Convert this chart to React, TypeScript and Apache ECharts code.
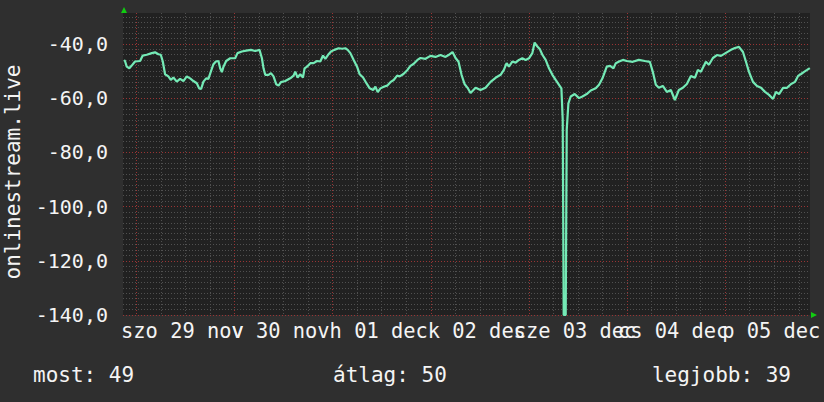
import React, { useEffect, useRef } from "react";
import * as echarts from "echarts";

// Time in hours since 2025-11-29 00:00, and the measured value.
const hours = [
  -3.0, -2.77, -2.35, -1.71, -1.13, -0.32, 0.91, 1.57, 2.55, 3.77, 4.58, 5.39, 5.98, 6.47, 7.03, 7.84, 8.43,
  9.06, 9.89, 10.7, 11.51, 12.34, 13.15, 13.96, 14.79, 15.36, 15.85, 16.41, 17.07, 17.63, 18.22, 18.86, 19.45,
  20.08, 20.5, 20.92, 21.31, 21.97, 22.95, 24.17, 24.74, 25.81, 26.87, 28.02, 29.07, 30.12,
  30.71, 31.1, 31.52, 32.33, 32.92, 33.55, 34.22, 34.78, 35.37, 36.42, 37.64, 38.45, 38.87, 39.43, 40.09,
  40.75, 41.15, 41.73, 42.54, 43.35, 44.18, 44.99, 45.65, 46.22, 47.02, 47.61, 48.42, 49.47, 50.31, 51.11,
  51.68, 52.34, 53.15, 53.98, 54.62, 55.45, 56.26, 57.07, 57.9, 58.47, 59.03, 59.69, 60.5, 61.33, 62.31,
  62.94, 63.78, 64.41,
  65.32, 66.3, 67.03, 67.77, 68.75, 69.48, 70.71, 71.93, 73.16, 74.38, 75.61, 76.34, 77.32, 78.06, 78.79,
  79.53, 80.26, 81.0, 81.73, 82.96, 84.18, 85.4, 86.63, 87.85,
  89.08, 89.88, 90.55, 91.11, 91.94, 92.75, 93.56, 94.39, 95.2, 96.01, 96.84, 97.4, 98.07, 98.7, 99.29,
  100.1, 100.91, 101.74, 102.55, 103.36, 103.95, 104.27, 104.51, 105.0, 105.25, 105.66, 106.22, 107.2,
  108.25, 109.09, 110.14, 111.12, 112.35, 113.15, 113.99, 115.04, 115.85, 116.68, 117.25, 118.05,
  118.99, 119.93, 121.4, 122.87, 124.34, 125.57, 126.3, 127.04, 127.77, 128.75, 129.73, 130.71, 131.69,
  132.67, 133.65, 134.63, 135.61, 136.59, 137.32, 138.06, 139.28, 140.02, 141.0, 141.98, 142.96, 144.18,
  145.41, 146.39, 147.37, 148.35, 149.08, 149.82, 150.8, 151.78, 152.76, 153.74, 154.72, 155.7, 156.43,
  157.17, 158.15, 159.13, 160.11, 161.09, 161.82, 162.56, 163.29, 164.03, 164.7,
];

const values = [
  -46.0, -46.3, -48.4, -49.0, -48.0, -46.5, -46.3, -44.3, -44.0, -43.4, -43.1, -43.8, -44.0, -46.5, -51.2, -52.0, -53.3,
  -52.4, -53.9, -52.9, -53.7, -52.0, -52.7, -53.7, -54.5, -56.4, -56.6, -53.9, -52.7, -52.9, -50.2, -47.5, -46.5,
  -46.3, -49.0, -50.4, -48.4, -46.3, -45.3, -45.3, -43.4, -42.8, -42.5, -42.2, -42.6, -42.2,
  -45.3, -49.0, -51.4, -51.4, -50.8, -52.0, -54.9, -55.4, -54.1, -53.7, -52.7, -51.7, -50.2, -52.4, -51.2,
  -52.4, -49.0, -48.4, -47.1, -47.1, -46.3, -46.5, -44.3, -45.5, -43.8, -42.8, -42.2, -41.6, -41.8, -41.6,
  -42.2, -43.4, -45.9, -48.4, -51.2, -52.4, -54.5, -56.4, -57.0, -55.8, -57.8, -56.4, -55.8, -55.4, -53.9,
  -53.3, -51.7, -52.0,
  -51.1, -49.6, -48.1, -47.4, -45.9, -45.2, -45.5, -44.4, -44.8, -44.1, -44.8, -44.1, -43.0, -45.2, -46.6,
  -51.4, -54.8, -56.2, -58.1, -56.2, -57.0, -56.2, -54.0, -52.5,
  -51.4, -49.6, -47.1, -48.4, -46.5, -46.9, -45.9, -45.3, -45.9, -45.3, -43.4, -39.5, -41.0, -42.0, -44.0,
  -45.9, -49.0, -51.4, -53.3, -55.1, -56.4, -68.0, -140.0, -140.0, -71.7, -61.9, -59.4, -58.5,
  -60.0, -59.4, -58.5, -57.2, -56.4, -55.1, -52.7, -48.4, -48.1, -49.0, -47.1, -46.5,
  -45.9, -46.3, -46.6, -45.9, -46.3, -46.6, -50.3, -55.1, -56.2, -55.5, -57.7, -57.0, -60.7,
  -57.0, -56.2, -54.8, -51.8, -52.5, -49.6, -50.3, -46.6, -47.7, -45.2, -44.1, -44.4, -43.3,
  -42.2, -41.5, -41.1, -43.0, -46.6, -50.3, -54.0, -55.5, -56.2, -57.7, -58.8, -60.3, -57.7,
  -58.5, -56.2, -56.2, -54.8, -54.0, -51.8, -51.1, -50.3, -49.6, -48.9,
];

// Day labels (centred at noon of each day), Hungarian locale
const dayLabels = ["szo 29 nov", "v 30 nov", "h 01 dec", "k 02 dec", "sze 03 dec", "cs 04 dec", "p 05 dec"];
const yTicks = [-140, -120, -100, -80, -60, -40];
const yAxisTitle = "onlinestream.live";
const statNow = 49;
const statAvg = 50;
const statBest = 39;

const X_MIN = -3.26;
const X_MAX = 164.74;
const Y_MIN = -140;
const Y_MAX = -28.6;

const FONT = "DejaVu Sans Mono";

export default function App() {
  const ref = useRef<HTMLDivElement>(null);

  useEffect(() => {
    if (!ref.current) return;
    const chart = echarts.init(ref.current, null, { renderer: "svg" });

    const minorX: number[] = [];
    for (let h = 6; h <= 168; h += 6) if (h % 24 !== 0) minorX.push(h);
    const majorX: number[] = [];
    for (let h = 0; h <= 168; h += 24) majorX.push(h);
    const labelX = dayLabels.map((_, i) => 12 + i * 24);
    const labelEven = labelX.filter((_, i) => i % 2 === 0);
    const labelOdd = labelX.filter((_, i) => i % 2 === 1);
    const minorY: number[] = [];
    for (let v = -138; v <= -30; v += 2) if (v % 20 !== 0) minorY.push(v);

    const gridLineMinor = { color: "#505050", type: [1, 2] as number[], width: 1 };
    const gridLineMajor = { color: "#9a3434", type: [1, 2] as number[], width: 1 };

    const baseX = {
      type: "value" as const,
      position: "bottom" as const,
      offset: 0,
      min: X_MIN,
      max: X_MAX,
      axisLine: { show: false, onZero: false },
      axisTick: { show: false },
      axisLabel: { show: false },
    };
    const baseY = {
      type: "value" as const,
      position: "left" as const,
      offset: 0,
      min: Y_MIN,
      max: Y_MAX,
      axisLine: { show: false, onZero: false },
      axisTick: { show: false },
      axisLabel: { show: false },
    };

    const labelAxis = (vals: number[]) => ({
      ...baseX,
      axisTick: { show: false, customValues: vals },
      splitLine: { show: false },
      axisLabel: {
        show: true,
        customValues: vals,
        hideOverlap: false,
        showMinLabel: true,
        showMaxLabel: true,
        color: "#f4f4f4",
        fontFamily: FONT,
        fontSize: 20.4,
        margin: 6,
        padding: [0, 6, 0, 0],
        formatter: (v: number) => dayLabels[Math.round((v - 12) / 24)] ?? "",
      },
    });

    const textStyle = (text: string, align: string, size: number) => ({
      text,
      fill: "#f4f4f4",
      fontFamily: FONT,
      fontSize: size,
      align,
      verticalAlign: "middle",
    });

    chart.setOption({
      animation: false,
      backgroundColor: "#2f2f2f",
      grid: {
        left: 123,
        right: 14,
        top: 13,
        bottom: 87,
        show: true,
        backgroundColor: "#212121",
        borderWidth: 0,
        outerBoundsMode: "none",
      },
      xAxis: [
        {
          ...baseX,
          axisTick: { show: false, customValues: minorX },
          splitLine: { show: true, lineStyle: gridLineMinor },
        },
        {
          ...baseX,
          axisTick: { show: false, customValues: majorX },
          splitLine: { show: true, lineStyle: gridLineMajor },
        },
        labelAxis(labelEven),
        labelAxis(labelOdd),
      ],
      yAxis: [
        {
          ...baseY,
          axisTick: { show: false, customValues: minorY },
          splitLine: { show: true, lineStyle: gridLineMinor },
        },
        {
          ...baseY,
          axisTick: { show: false, customValues: yTicks },
          splitLine: { show: true, lineStyle: gridLineMajor },
          axisLabel: {
            show: true,
            customValues: yTicks,
            hideOverlap: false,
            showMinLabel: true,
            showMaxLabel: true,
            color: "#f4f4f4",
            fontFamily: FONT,
            fontSize: 20,
            margin: 15,
            formatter: (v: number) => v.toFixed(1).replace(".", ","),
          },
        },
      ],
      graphic: [
        {
          type: "text",
          x: 13,
          y: 172,
          rotation: Math.PI / 2,
          style: textStyle(yAxisTitle, "center", 21),
        },
        {
          type: "polygon",
          shape: { points: [[121, 13], [127, 13], [124, 7]] },
          style: { fill: "#11cc11" },
        },
        {
          type: "polygon",
          shape: { points: [[811, 312], [811, 318], [817, 315]] },
          style: { fill: "#11cc11" },
        },
        { type: "text", x: 33, y: 375, style: textStyle(`most: ${statNow}`, "left", 21) },
        { type: "text", x: 333, y: 375, style: textStyle(`átlag: ${statAvg}`, "left", 21) },
        { type: "text", x: 791, y: 375, style: textStyle(`legjobb: ${statBest}`, "right", 21) },
      ],
      series: [
        {
          type: "line",
          xAxisIndex: 0,
          yAxisIndex: 0,
          data: hours.map((h, i) => [h, values[i]]),
          showSymbol: false,
          symbol: "none",
          lineStyle: { color: "#74eab6", width: 2.2 },
          z: 5,
        },
      ],
    });

    return () => chart.dispose();
  }, []);

  return (
    <div
      ref={ref}
      style={{ position: "absolute", left: 0, top: 0, width: 824, height: 402 }}
    />
  );
}
